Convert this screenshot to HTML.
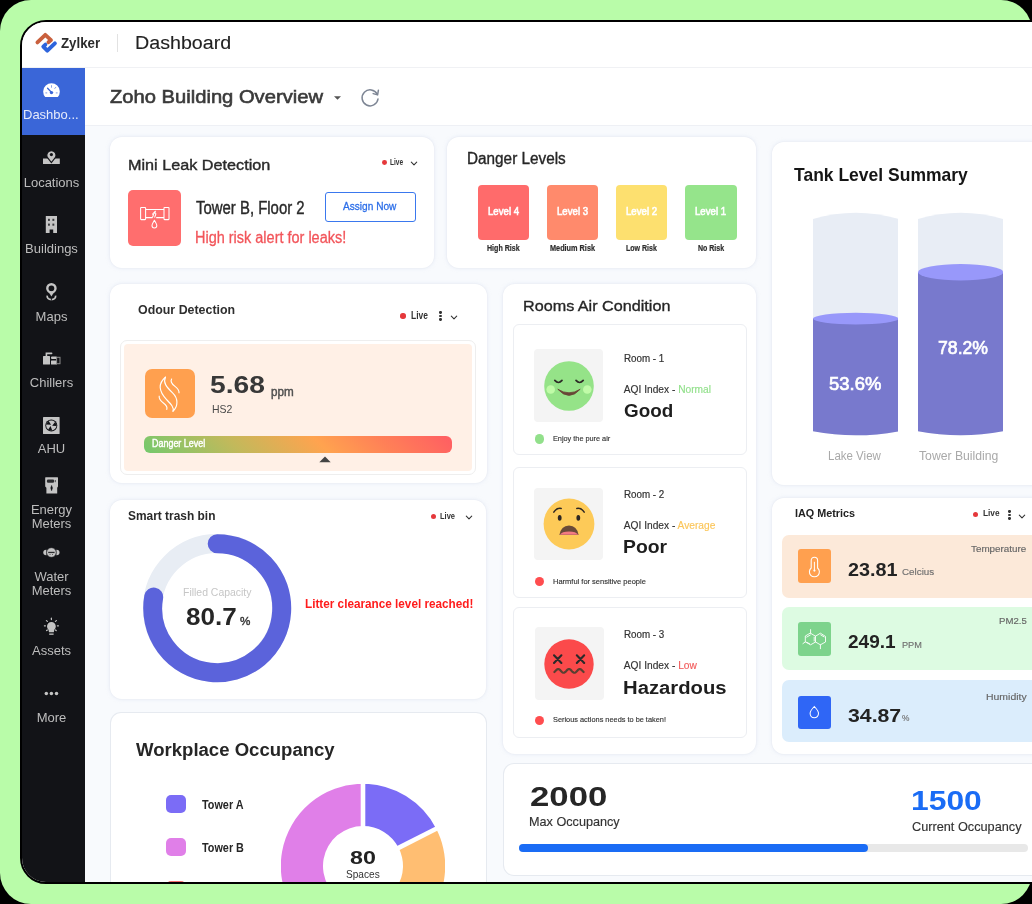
<!DOCTYPE html>
<html><head><meta charset="utf-8">
<style>
*{margin:0;padding:0;box-sizing:border-box;}
html,body{width:1032px;height:904px;overflow:hidden;background:#000;font-family:"Liberation Sans",sans-serif;}
.abs{position:absolute;}
#green{position:absolute;left:0;top:0;width:1032px;height:904px;background:#b9fca9;border-radius:31px;}
#panel{position:absolute;left:20px;top:20px;width:1100px;height:864px;background:#fff;border:2px solid #000;border-radius:26px;overflow:hidden;}
#pg{position:absolute;left:-22px;top:-22px;width:1200px;height:904px;will-change:transform;}
#hdr{position:absolute;left:22px;top:22px;width:1100px;height:46px;background:#fff;border-bottom:1px solid #f0f1f4;}
#side{position:absolute;left:22px;top:68px;width:63px;height:820px;background:#121317;}
#main{position:absolute;left:85px;top:68px;width:1100px;height:820px;background:#f8fafd;}
#tband{position:absolute;left:85px;top:68px;width:1100px;height:58px;background:#fff;border-bottom:1px solid #eef0f5;}
.sl{left:22px;width:59px;text-align:center;font-size:13px;line-height:13px;color:#bdbdbd;white-space:nowrap;}
.t{position:absolute;white-space:nowrap;transform-origin:0 0;}
.card{position:absolute;background:#fff;border-radius:16px;box-shadow:0 0 0 0.6px #eceff5, 0 0 4px rgba(190,200,225,0.35);}
</style></head>
<body>
<div id="green"></div>
<div id="panel"><div id="pg">
<div id="hdr"></div>
<div id="side"></div>
<div id="main"></div>
<div id="tband"></div>

<!-- header -->
<svg class="abs" style="left:33px;top:30px" width="26" height="26" viewBox="0 0 26 26">
<polyline points="4.4,12.4 12.3,4.8 18,10.1 15.4,12.2" fill="none" stroke="#c9603d" stroke-width="3.8" stroke-linecap="round" stroke-linejoin="round"/>
<polyline points="12.4,14.6 10.3,16.6 14.3,20.7 21.9,13.4" fill="none" stroke="#2e64dc" stroke-width="3.9" stroke-linecap="round" stroke-linejoin="round"/>
</svg>
<div class="abs" style="left:117px;top:34px;width:1px;height:18px;background:#e2e2e2"></div>
<!-- title band -->
<svg class="abs" style="left:333px;top:95px" width="9" height="6" viewBox="0 0 9 6"><path d="M1 1.2 L8 1.2 L4.5 4.8 Z" fill="#555"/></svg>
<svg class="abs" style="left:359px;top:87px" width="22" height="22" viewBox="0 0 22 22"><path d="M18.2 7.2 A8 8 0 1 0 19 12" fill="none" stroke="#7d8594" stroke-width="1.5" stroke-linecap="round"/><path d="M19.4 3.2 L18.6 7.9 L14.2 6.6" fill="none" stroke="#7d8594" stroke-width="1.5" stroke-linecap="round" stroke-linejoin="round"/></svg>

<!-- sidebar -->
<div class="abs" style="left:22px;top:68px;width:63px;height:67px;background:#3a66d8"></div>
<svg class="abs" style="left:42px;top:83px" width="19" height="16" viewBox="0 0 19 16">
<path d="M3.2 14 A8.3 8.3 0 1 1 15.8 14 Z" fill="#fff"/>
<line x1="5.6" y1="5.2" x2="9.5" y2="9.4" stroke="#3a66d8" stroke-width="1.3" stroke-linecap="round"/>
<circle cx="9.5" cy="9.6" r="1.7" fill="#3a66d8"/>
<line x1="9.5" y1="2.6" x2="9.5" y2="4.3" stroke="#8aa3e8" stroke-width="1" stroke-linecap="round"/>
<line x1="13.8" y1="4.3" x2="12.8" y2="5.5" stroke="#8aa3e8" stroke-width="1" stroke-linecap="round"/>
<line x1="3.4" y1="9.9" x2="5.2" y2="9.9" stroke="#8aa3e8" stroke-width="1.1"/>
<line x1="13.8" y1="9.9" x2="15.6" y2="9.9" stroke="#8aa3e8" stroke-width="1.1"/>
</svg>
<div class="abs sl" style="left:23px;top:108px;width:56px;text-align:left;color:#e6ebfb">Dashbo...</div>
<svg class="abs" style="left:42px;top:149px" width="19" height="17" viewBox="0 0 19 17">
<rect x="1" y="9.5" width="16.8" height="5.5" fill="#c4c4c4"/>
<path d="M9.4 13.6 L5.2 8.2 A4.6 4.6 0 1 1 13.6 8.2 Z" fill="#c4c4c4" stroke="#121317" stroke-width="1.1"/>
<circle cx="9.4" cy="5.6" r="1.6" fill="#121317"/>
</svg>
<div class="abs sl" style="top:175.5px">Locations</div>
<svg class="abs" style="left:45px;top:215px" width="13" height="19" viewBox="0 0 13 19">
<path d="M0.8 1 H12 V18 H8.2 V14.5 H4.6 V18 H0.8 Z" fill="#c4c4c4"/>
<rect x="3" y="3.8" width="1.9" height="2.1" fill="#3a3b3e"/><rect x="7.4" y="3.8" width="1.9" height="2.1" fill="#3a3b3e"/>
<rect x="3" y="8.6" width="1.9" height="2.1" fill="#3a3b3e"/><rect x="7.4" y="8.6" width="1.9" height="2.1" fill="#3a3b3e"/>
</svg>
<div class="abs sl" style="top:242px">Buildings</div>
<svg class="abs" style="left:44px;top:281px" width="15" height="21" viewBox="0 0 15 21">
<circle cx="7.4" cy="7.3" r="4.1" fill="none" stroke="#c4c4c4" stroke-width="2.4"/>
<path d="M4.4 10.6 L7.4 15.6 L10.4 10.6 Z" fill="#c4c4c4"/>
<path d="M3.2 14.6 Q2.8 18.2 7.4 18.6 Q12 18.2 11.6 14.6" fill="none" stroke="#c4c4c4" stroke-width="1.7"/>
<path d="M7.4 16.2 V19.6 M5.6 15.4 L6.6 17 M9.2 15.4 L8.2 17" stroke="#121317" stroke-width="0.9"/>
</svg>
<div class="abs sl" style="top:309.5px">Maps</div>
<svg class="abs" style="left:42px;top:350px" width="19" height="17" viewBox="0 0 19 17">
<rect x="1" y="6" width="7" height="8.6" rx="0.5" fill="#c4c4c4"/>
<path d="M4.4 6 V3.4 H9.6" fill="none" stroke="#c4c4c4" stroke-width="1.6" stroke-linecap="round"/>
<rect x="9" y="6.4" width="6" height="2.6" rx="1" fill="#c4c4c4"/>
<rect x="9" y="10.4" width="6" height="4.2" rx="0.5" fill="#c4c4c4"/>
<rect x="14.6" y="7.3" width="3.4" height="6.4" fill="none" stroke="#8c8c8c" stroke-width="1"/>
</svg>
<div class="abs sl" style="top:375.6px">Chillers</div>
<svg class="abs" style="left:42px;top:416px" width="19" height="19" viewBox="0 0 19 19">
<rect x="1" y="1" width="16.6" height="17" rx="0.6" fill="#c4c4c4"/>
<circle cx="9.3" cy="9.5" r="6" fill="#121317"/>
<circle cx="9.3" cy="9.5" r="5.1" fill="#c4c4c4"/>
<path d="M10.14 9.82 L13.25 5.82 L14.68 9.97 Z M8.58 10.04 L10.33 14.80 L6.05 13.81 Z M9.07 8.63 L4.00 8.47 L6.52 4.87 Z" fill="#121317"/>
</svg>
<div class="abs sl" style="top:442.4px">AHU</div>
<svg class="abs" style="left:44px;top:476px" width="15" height="19" viewBox="0 0 15 19">
<path d="M1.6 1.2 H13.6 Q14 1.2 14 2 V10.5 L13.2 11.8 V17.6 H2.4 V11.8 L1.2 10.5 V2 Q1.2 1.2 1.6 1.2 Z" fill="#c4c4c4"/>
<rect x="2.9" y="3.6" width="7.2" height="3.1" rx="1.2" fill="#2a2b2e"/>
<rect x="10.8" y="4" width="1" height="2.2" fill="#4a4b4e"/>
<path d="M7.6 9.2 L8.6 12 L7.6 15 L6.6 12 Z" fill="#121317" stroke="#121317" stroke-width="0.3"/>
</svg>
<div class="abs sl" style="top:502.8px;line-height:13.8px">Energy<br>Meters</div>
<svg class="abs" style="left:42px;top:546px" width="19" height="13" viewBox="0 0 19 13">
<path d="M4.5 3.8 Q1.3 3.6 1.3 6.5 Q1.3 9.4 4.5 9.2 Z" fill="#c4c4c4"/>
<path d="M14.3 3.8 Q17.5 3.6 17.5 6.5 Q17.5 9.4 14.3 9.2 Z" fill="#c4c4c4"/>
<circle cx="9.4" cy="6.5" r="4.8" fill="#c4c4c4" stroke="#121317" stroke-width="0.6"/>
<rect x="6.2" y="5.8" width="6.4" height="1.3" fill="#2a2b2e"/>
<rect x="7.6" y="8" width="0.9" height="1" fill="#5a5a5a"/><rect x="10.1" y="8" width="0.9" height="1" fill="#5a5a5a"/>
</svg>
<div class="abs sl" style="top:569.7px;line-height:14.3px">Water<br>Meters</div>
<svg class="abs" style="left:43px;top:617px" width="17" height="20" viewBox="0 0 17 20">
<path d="M8.4 5 A4.4 4.4 0 0 1 12.8 9.4 Q12.8 11.4 11.3 12.8 L10.8 15.2 H6 L5.5 12.8 Q4 11.4 4 9.4 A4.4 4.4 0 0 1 8.4 5 Z" fill="#c4c4c4"/>
<rect x="6.2" y="16.5" width="4.4" height="1.3" fill="#c4c4c4"/>
<g stroke="#c4c4c4" stroke-width="1.2" stroke-linecap="round">
<line x1="8.4" y1="1.2" x2="8.4" y2="2.6"/><line x1="3.4" y1="3.6" x2="4.4" y2="4.4"/><line x1="13.4" y1="3.6" x2="12.4" y2="4.4"/>
<line x1="1.4" y1="8.8" x2="2.4" y2="8.8"/><line x1="15.4" y1="8.8" x2="14.4" y2="8.8"/>
<line x1="3.6" y1="13.6" x2="4.4" y2="13"/><line x1="13.2" y1="13.6" x2="12.4" y2="13"/>
</g>
</svg>
<div class="abs sl" style="top:643.9px">Assets</div>
<svg class="abs" style="left:42px;top:689px" width="19" height="9" viewBox="0 0 19 9">
<circle cx="4.3" cy="4.5" r="1.75" fill="#c4c4c4"/><circle cx="9.4" cy="4.5" r="1.75" fill="#c4c4c4"/><circle cx="14.5" cy="4.5" r="1.75" fill="#c4c4c4"/>
</svg>
<div class="abs sl" style="top:710.7px">More</div>

<div class="t" style="left:60.50px;top:35.55px;transform:scaleX(0.9498);font-size:14px;line-height:14px;font-weight:700;color:#2b2b2b;">Zylker</div>
<div class="t" style="left:135.08px;top:34.50px;transform:scaleX(1.1176);font-size:17.6px;line-height:17.6px;font-weight:400;color:#222;-webkit-text-stroke:0.1px #222;">Dashboard</div>
<div class="t" style="left:110.20px;top:88.06px;transform:scaleX(1.0846);font-size:18.6px;line-height:18.6px;font-weight:400;color:#3a3a3a;-webkit-text-stroke:0.6px #3a3a3a;">Zoho Building Overview</div>
<div class="card" style="left:110px;top:137px;width:324px;height:131px;border-radius:12px;"></div>
<div class="t" style="left:127.95px;top:157.26px;transform:scaleX(1.0524);font-size:15.4px;line-height:15.4px;font-weight:400;color:#2a2a2a;-webkit-text-stroke:0.4px #2a2a2a;">Mini Leak Detection</div>
<div class="abs" style="left:381.90000000000003px;top:160.2px;width:4.8px;height:4.8px;border-radius:50%;background:#e5383b"></div>
<div class="t" style="left:389.70px;top:158.40px;transform:scaleX(0.7696);font-size:8.5px;line-height:8.5px;font-weight:700;color:#333;">Live</div>
<svg class="abs" style="left:409.8px;top:160.8px" width="8" height="5" viewBox="0 0 8 5"><path d="M1.3 1.2 L4 3.8 L6.7 1.2" fill="none" stroke="#333" stroke-width="1.1" stroke-linecap="round" stroke-linejoin="round"/></svg>
<div class="abs" style="left:128px;top:189.5px;width:53px;height:56.5px;border-radius:5px;background:#ff6e6e"></div>
<svg class="abs" style="left:134px;top:196px" width="42" height="42" viewBox="0 0 42 42">
<g fill="none" stroke="#fff" stroke-width="1.05" stroke-linejoin="round">
<rect x="6.6" y="11.4" width="5" height="12.2" rx="0.6"/>
<rect x="30" y="11.4" width="5" height="12.2" rx="0.6"/>
<path d="M11.6 13.5 H30 M11.6 21.6 H18.4 M22.2 21.6 H30"/>
<path d="M18.4 21.6 L19.6 18.4 L18.6 18.2 L21.4 15.2 L20.8 17.6 L21.9 17.8 L20.6 21.6"/>
<path d="M20.4 24.2 Q17.8 28.6 18 29.6 A2.4 2.4 0 0 0 22.8 29.6 Q23 28.6 20.4 24.2 Z"/>
</g></svg>
<div class="t" style="left:195.70px;top:199.79px;transform:scaleX(0.8526);font-size:17.5px;line-height:17.5px;font-weight:400;color:#2a2a2a;-webkit-text-stroke:0.4px #2a2a2a;">Tower B, Floor 2</div>
<div class="t" style="left:194.80px;top:229.56px;transform:scaleX(0.9046);font-size:16px;line-height:16px;font-weight:400;color:#f2555a;-webkit-text-stroke:0.3px #f2555a;">High risk alert for leaks!</div>
<div class="abs" style="left:325px;top:191.5px;width:91px;height:30px;border:1.3px solid #3a78ee;border-radius:3px;background:#fff"></div>
<div class="t" style="left:342.90px;top:200.67px;transform:scaleX(0.8793);font-size:11.5px;line-height:11.5px;font-weight:400;color:#2c6ee8;-webkit-text-stroke:0.3px #2c6ee8;">Assign Now</div>
<div class="card" style="left:447px;top:137px;width:309px;height:131px;border-radius:12px;"></div>
<div class="t" style="left:467.12px;top:151.09px;transform:scaleX(0.9824);font-size:15.6px;line-height:15.6px;font-weight:400;color:#262626;-webkit-text-stroke:0.35px #262626;">Danger Levels</div>
<div class="abs" style="left:477.5px;top:184.5px;width:51.5px;height:55.2px;border-radius:4px;background:#ff6b6b"></div>
<div class="t" style="left:487.75px;top:206.29px;transform:scaleX(0.8769);font-size:11px;line-height:11px;font-weight:400;color:#fff;-webkit-text-stroke:0.6px #fff;">Level 4</div>
<div class="t" style="left:486.75px;top:244.19px;transform:scaleX(0.8469);font-size:8.4px;line-height:8.4px;font-weight:700;color:#2e2e2e;-webkit-text-stroke:0.2px #2e2e2e;">High Risk</div>
<div class="abs" style="left:546.7px;top:184.5px;width:51.5px;height:55.2px;border-radius:4px;background:#ff8a6c"></div>
<div class="t" style="left:556.95px;top:206.29px;transform:scaleX(0.8769);font-size:11px;line-height:11px;font-weight:400;color:#fff;-webkit-text-stroke:0.6px #fff;">Level 3</div>
<div class="t" style="left:549.80px;top:244.19px;transform:scaleX(0.8712);font-size:8.4px;line-height:8.4px;font-weight:700;color:#2e2e2e;-webkit-text-stroke:0.2px #2e2e2e;">Medium Risk</div>
<div class="abs" style="left:615.7px;top:184.5px;width:51.5px;height:55.2px;border-radius:4px;background:#fde06f"></div>
<div class="t" style="left:625.95px;top:206.29px;transform:scaleX(0.8769);font-size:11px;line-height:11px;font-weight:400;color:#fff;-webkit-text-stroke:0.6px #fff;">Level 2</div>
<div class="t" style="left:625.85px;top:244.19px;transform:scaleX(0.8408);font-size:8.4px;line-height:8.4px;font-weight:700;color:#2e2e2e;-webkit-text-stroke:0.2px #2e2e2e;">Low Risk</div>
<div class="abs" style="left:685px;top:184.5px;width:51.5px;height:55.2px;border-radius:4px;background:#95e48b"></div>
<div class="t" style="left:695.25px;top:206.29px;transform:scaleX(0.8769);font-size:11px;line-height:11px;font-weight:400;color:#fff;-webkit-text-stroke:0.6px #fff;">Level 1</div>
<div class="t" style="left:697.55px;top:244.19px;transform:scaleX(0.8375);font-size:8.4px;line-height:8.4px;font-weight:700;color:#2e2e2e;-webkit-text-stroke:0.2px #2e2e2e;">No Risk</div>
<div class="card" style="left:772px;top:142px;width:320px;height:343px;border-radius:12px;"></div>
<div class="t" style="left:794.00px;top:166.92px;transform:scaleX(0.9897);font-size:17.7px;line-height:17.7px;font-weight:700;color:#151515;">Tank Level Summary</div>
<svg class="abs" style="left:812.7px;top:205px" width="85.5" height="235" viewBox="0 0 85.5 235">
<path d="M0 14 Q42.75 1.5 85.5 14 V226.3 Q42.75 234.4 0 226.3 Z" fill="#e8edf5"/>
<path d="M0 113.60000000000002 V226.3 Q42.75 234.4 85.5 226.3 V113.60000000000002 Z" fill="#7879cd"/>
<ellipse cx="42.75" cy="113.60000000000002" rx="42.75" ry="5.8" fill="#9898fa"/>
</svg>
<svg class="abs" style="left:918px;top:205px" width="85.29999999999995" height="235" viewBox="0 0 85.29999999999995 235">
<path d="M0 14 Q42.64999999999998 1.5 85.29999999999995 14 V226.3 Q42.64999999999998 234.4 0 226.3 Z" fill="#e8edf5"/>
<path d="M0 67.19999999999999 V226.3 Q42.64999999999998 234.4 85.29999999999995 226.3 V67.19999999999999 Z" fill="#7879cd"/>
<ellipse cx="42.64999999999998" cy="67.19999999999999" rx="42.64999999999998" ry="8.2" fill="#9898fa"/>
</svg>
<div class="t" style="left:828.70px;top:373.75px;transform:scaleX(0.9624);font-size:19.2px;line-height:19.2px;font-weight:400;color:#fff;-webkit-text-stroke:0.7px #fff;">53.6%</div>
<div class="t" style="left:938.00px;top:337.95px;transform:scaleX(0.9201);font-size:19.2px;line-height:19.2px;font-weight:400;color:#fff;-webkit-text-stroke:0.7px #fff;">78.2%</div>
<div class="t" style="left:827.78px;top:449.92px;transform:scaleX(0.9196);font-size:12.5px;line-height:12.5px;font-weight:400;color:#a9a9a9;">Lake View</div>
<div class="t" style="left:918.50px;top:449.92px;transform:scaleX(0.9761);font-size:12.5px;line-height:12.5px;font-weight:400;color:#a9a9a9;">Tower Building</div>
<div class="card" style="left:110px;top:284px;width:377px;height:199px;border-radius:12px;"></div>
<div class="t" style="left:137.90px;top:304.46px;transform:scaleX(0.9689);font-size:12.8px;line-height:12.8px;font-weight:700;color:#2e2e2e;">Odour Detection</div>
<div class="abs" style="left:400.3px;top:313.3px;width:5.4px;height:5.4px;border-radius:50%;background:#e5383b"></div>
<div class="t" style="left:410.50px;top:310.94px;transform:scaleX(0.8460);font-size:10px;line-height:10px;font-weight:700;color:#333;">Live</div>
<div class="abs" style="left:439.25px;top:311.25px;width:2.3px;height:2.3px;border-radius:50%;background:#333"></div>
<div class="abs" style="left:439.25px;top:314.85px;width:2.3px;height:2.3px;border-radius:50%;background:#333"></div>
<div class="abs" style="left:439.25px;top:318.45000000000005px;width:2.3px;height:2.3px;border-radius:50%;background:#333"></div>
<svg class="abs" style="left:450px;top:314.5px" width="8" height="5" viewBox="0 0 8 5"><path d="M1.3 1.2 L4 3.8 L6.7 1.2" fill="none" stroke="#333" stroke-width="1.1" stroke-linecap="round" stroke-linejoin="round"/></svg>
<div class="abs" style="left:119.8px;top:340.4px;width:356.5px;height:135px;border:1.2px solid #eeeeee;border-radius:7px;background:#fff"></div>
<div class="abs" style="left:124.3px;top:344.3px;width:347.7px;height:126.5px;border-radius:4px;background:#fff0e6"></div>
<div class="abs" style="left:145px;top:369px;width:50px;height:49px;border-radius:7px;background:#ffa04f"></div>
<svg class="abs" style="left:145px;top:369px" width="50" height="49" viewBox="0 0 50 49">
<g fill="none" stroke="#fff" stroke-width="1.15" stroke-linecap="round">
<path d="M20.4 8.2 C13 14.5 13.5 22 21.6 30.6 C26 35.2 29.4 38.6 28 42.2"/>
<path d="M20.4 8.2 C18 13.4 21 17.6 27.6 23.8 C33.4 29.4 33.2 37.4 28 42.2"/>
<path d="M26.6 10 C25 12.6 26.4 14.6 30 17.4 C33 19.8 34.2 21.6 34 23.8"/>
<path d="M14.2 27.2 C13.8 30 15.2 31.6 18.4 34 C21.4 36.2 22.6 38 21.8 40.4"/>
</g></svg>
<div class="t" style="left:210.00px;top:372.51px;transform:scaleX(1.1388);font-size:24.8px;line-height:24.8px;font-weight:700;color:#383838;">5.68</div>
<div class="t" style="left:270.60px;top:386.02px;transform:scaleX(0.9329);font-size:12.5px;line-height:12.5px;font-weight:400;color:#505050;-webkit-text-stroke:0.45px #505050;">ppm</div>
<div class="t" style="left:212.30px;top:404.17px;transform:scaleX(0.9101);font-size:11.5px;line-height:11.5px;font-weight:400;color:#4a4a4a;">HS2</div>
<div class="abs" style="left:144px;top:436.3px;width:308px;height:17px;border-radius:6px;background:linear-gradient(45deg,#74c96d 0%,#c2b95b 30%,#ffa34f 57%,#ff8057 77%,#ff5d63 100%)"></div>
<div class="t" style="left:152.20px;top:438.54px;transform:scaleX(0.8944);font-size:10px;line-height:10px;font-weight:400;color:#fff;-webkit-text-stroke:0.4px #fff;">Danger Level</div>
<svg class="abs" style="left:318.5px;top:456px" width="12" height="7" viewBox="0 0 12 7"><path d="M0.3 6.2 L6 0.4 L11.7 6.2 Z" fill="#444"/></svg>
<div class="card" style="left:502.5px;top:284px;width:253px;height:470px;border-radius:12px;"></div>
<div class="t" style="left:523.36px;top:298.48px;transform:scaleX(1.0433);font-size:15.5px;line-height:15.5px;font-weight:400;color:#262626;-webkit-text-stroke:0.35px #262626;">Rooms Air Condition</div>
<div class="abs" style="left:513px;top:324px;width:233.5px;height:130.7px;border:1px solid #eceef2;border-radius:6px;background:#fff"></div>
<div class="abs" style="left:534.2px;top:349px;width:68.6px;height:72.80000000000001px;border-radius:4px;background:#f4f4f4"></div>
<svg class="abs" style="left:538.8px;top:356.2px" width="60" height="60" viewBox="-30 -30 60 60">
<circle cx="0" cy="0" r="24.8" fill="#95e388"/>
<circle cx="-18.3" cy="3.5" r="4.3" fill="#c0fba8"/><circle cx="18.3" cy="3.5" r="4.3" fill="#c0fba8"/>
<path d="M-14.2 -5.6 Q-10.6 -1.4 -7 -5.6 M7 -5.6 Q10.6 -1.4 14.2 -5.6" fill="none" stroke="#2d2a26" stroke-width="1.7" stroke-linecap="round"/>
<path d="M-11.2 3.2 Q0 15.6 11.2 3.2 Q0 10.4 -11.2 3.2 Z" fill="#684636" stroke="#684636" stroke-width="0.8" stroke-linejoin="round"/>
</svg>
<div class="t" style="left:623.80px;top:353.54px;transform:scaleX(0.9793);font-size:10px;line-height:10px;font-weight:400;color:#333;-webkit-text-stroke:0.2px #333;">Room - 1</div>
<div class="t" style="left:623.80px;top:385.17px;font-size:10.2px;line-height:10.2px;font-weight:400;color:#333;-webkit-text-stroke:0.15px #333;">AQI Index - <span style="color:#92e08b;-webkit-text-stroke:0.15px #92e08b">Normal</span></div>
<div class="t" style="left:623.80px;top:401.15px;transform:scaleX(0.9825);font-size:19.2px;line-height:19.2px;font-weight:700;color:#1e1e1e;">Good</div>
<div class="abs" style="left:535.0px;top:434.2px;width:9.4px;height:9.4px;border-radius:50%;background:#92e08b"></div>
<div class="t" style="left:552.50px;top:434.94px;transform:scaleX(0.9021);font-size:8.1px;line-height:8.1px;font-weight:400;color:#333;-webkit-text-stroke:0.15px #333;">Enjoy the pure air</div>
<div class="abs" style="left:513px;top:466.8px;width:233.5px;height:131.3px;border:1px solid #eceef2;border-radius:6px;background:#fff"></div>
<div class="abs" style="left:534px;top:487.9px;width:68.6px;height:72.60000000000002px;border-radius:4px;background:#f4f4f4"></div>
<svg class="abs" style="left:538.7px;top:494.20000000000005px" width="60" height="60" viewBox="-30 -30 60 60">
<circle cx="0" cy="0" r="25.4" fill="#fdca58"/>
<path d="M-15.2 -11.8 Q-12.4 -16.4 -7.8 -15.6 M7.8 -15.6 Q12.4 -16.4 15.2 -11.8" fill="none" stroke="#2d2622" stroke-width="1.5" stroke-linecap="round"/>
<ellipse cx="-9.3" cy="-6.2" rx="1.9" ry="2.9" fill="#2d2622"/><ellipse cx="9.3" cy="-6.2" rx="1.9" ry="2.9" fill="#2d2622"/>
<path d="M-9.6 11 Q-8 1.8 0 1.6 Q8 1.8 9.6 11 Z" fill="#6a4a38"/>
<path d="M-9.4 10.8 Q-7 7.4 0 7.4 Q7 7.4 9.4 10.8 Z" fill="#f37a82"/>
</svg>
<div class="t" style="left:623.80px;top:489.84px;transform:scaleX(0.9793);font-size:10px;line-height:10px;font-weight:400;color:#333;-webkit-text-stroke:0.2px #333;">Room - 2</div>
<div class="t" style="left:623.80px;top:521.27px;font-size:10.2px;line-height:10.2px;font-weight:400;color:#333;-webkit-text-stroke:0.15px #333;">AQI Index - <span style="color:#fbc65a;-webkit-text-stroke:0.15px #fbc65a">Average</span></div>
<div class="t" style="left:622.79px;top:537.05px;transform:scaleX(1.0084);font-size:19.2px;line-height:19.2px;font-weight:700;color:#1e1e1e;">Poor</div>
<div class="abs" style="left:535.0px;top:576.9px;width:9.4px;height:9.4px;border-radius:50%;background:#ff4d4f"></div>
<div class="t" style="left:552.50px;top:577.64px;transform:scaleX(0.9254);font-size:8.1px;line-height:8.1px;font-weight:400;color:#333;-webkit-text-stroke:0.15px #333;">Harmful for sensitive people</div>
<div class="abs" style="left:513px;top:607.3px;width:233.5px;height:130.80000000000007px;border:1px solid #eceef2;border-radius:6px;background:#fff"></div>
<div class="abs" style="left:535.3px;top:627.1px;width:68.6px;height:73.39999999999998px;border-radius:4px;background:#f4f4f4"></div>
<svg class="abs" style="left:539.2px;top:633.5px" width="60" height="60" viewBox="-30 -30 60 60">
<circle cx="0" cy="0" r="24.7" fill="#fb4a4b"/>
<path d="M-15 -8.7 L-7.6 -1.1 M-7.6 -8.7 L-15 -1.1 M7.8 -8.7 L15.2 -1.1 M15.2 -8.7 L7.8 -1.1" stroke="#2b2a2a" stroke-width="2.1" stroke-linecap="round" transform="scale(1)"/>
<path d="M-14.60 8.03 L-13.87 7.31 L-13.14 6.50 L-12.41 5.77 L-11.68 5.24 L-10.95 5.01 L-10.22 5.11 L-9.49 5.53 L-8.76 6.19 L-8.03 6.98 L-7.30 7.75 L-6.57 8.38 L-5.84 8.74 L-5.11 8.77 L-4.38 8.48 L-3.65 7.90 L-2.92 7.14 L-2.19 6.34 L-1.46 5.65 L-0.73 5.17 L0.00 5.00 L0.73 5.17 L1.46 5.65 L2.19 6.34 L2.92 7.14 L3.65 7.90 L4.38 8.48 L5.11 8.77 L5.84 8.74 L6.57 8.38 L7.30 7.75 L8.03 6.98 L8.76 6.19 L9.49 5.53 L10.22 5.11 L10.95 5.01 L11.68 5.24 L12.41 5.77 L13.14 6.50 L13.87 7.31 L14.60 8.03" fill="none" stroke="#5a3f31" stroke-width="2.2" stroke-linecap="round" stroke-linejoin="round"/>
</svg>
<div class="t" style="left:623.80px;top:630.33px;transform:scaleX(0.9793);font-size:10px;line-height:10px;font-weight:400;color:#333;-webkit-text-stroke:0.2px #333;">Room - 3</div>
<div class="t" style="left:623.80px;top:661.27px;font-size:10.2px;line-height:10.2px;font-weight:400;color:#333;-webkit-text-stroke:0.15px #333;">AQI Index - <span style="color:#f25c5c;-webkit-text-stroke:0.15px #f25c5c">Low</span></div>
<div class="t" style="left:622.74px;top:677.55px;transform:scaleX(1.0558);font-size:19.2px;line-height:19.2px;font-weight:700;color:#1e1e1e;">Hazardous</div>
<div class="abs" style="left:535.0px;top:715.6999999999999px;width:9.4px;height:9.4px;border-radius:50%;background:#ff4d4f"></div>
<div class="t" style="left:552.50px;top:716.44px;transform:scaleX(0.9093);font-size:8.1px;line-height:8.1px;font-weight:400;color:#333;-webkit-text-stroke:0.15px #333;">Serious actions needs to be taken!</div>
<div class="card" style="left:110px;top:500px;width:376px;height:199px;border-radius:12px;"></div>
<div class="t" style="left:127.70px;top:509.27px;transform:scaleX(0.8828);font-size:13.5px;line-height:13.5px;font-weight:700;color:#2a2a2a;">Smart trash bin</div>
<div class="abs" style="left:430.7px;top:514.0px;width:5.0px;height:5.0px;border-radius:50%;background:#e5383b"></div>
<div class="t" style="left:439.80px;top:512.18px;transform:scaleX(0.8332);font-size:9px;line-height:9px;font-weight:700;color:#333;">Live</div>
<svg class="abs" style="left:464.5px;top:514.5px" width="8" height="5" viewBox="0 0 8 5"><path d="M1.3 1.2 L4 3.8 L6.7 1.2" fill="none" stroke="#333" stroke-width="1.1" stroke-linecap="round" stroke-linejoin="round"/></svg>
<svg class="abs" style="left:137px;top:528px" width="160" height="160" viewBox="-80 -80 160 160">
<circle cx="0" cy="0" r="64.5" fill="none" stroke="#e8edf4" stroke-width="19"/>
<path d="M0 -64.5 A64.5 64.5 0 1 1 -63.5 -11.2" fill="none" stroke="#5b63db" stroke-width="19" stroke-linecap="round" transform="translate(0.2 0.2)"/>
</svg>
<div class="t" style="left:183.40px;top:587.93px;transform:scaleX(1.0445);font-size:10px;line-height:10px;font-weight:400;color:#c6c6c6;">Filled Capacity</div>
<div class="t" style="left:185.70px;top:604.86px;transform:scaleX(1.0625);font-size:24.5px;line-height:24.5px;font-weight:700;color:#262626;">80.7</div>
<div class="t" style="left:240.00px;top:616.29px;transform:scaleX(1.0600);font-size:11px;line-height:11px;font-weight:400;color:#333;-webkit-text-stroke:0.4px #333;">%</div>
<div class="t" style="left:305.20px;top:598.22px;transform:scaleX(0.9394);font-size:12.5px;line-height:12.5px;font-weight:700;color:#ff1c1c;">Litter clearance level reached!</div>
<div class="card" style="left:772px;top:498px;width:320px;height:256px;border-radius:12px;"></div>
<div class="t" style="left:794.70px;top:508.15px;transform:scaleX(0.9497);font-size:11.4px;line-height:11.4px;font-weight:700;color:#222;">IAQ Metrics</div>
<div class="abs" style="left:973.3px;top:512.2px;width:5.0px;height:5.0px;border-radius:50%;background:#e5383b"></div>
<div class="t" style="left:983.20px;top:508.78px;transform:scaleX(0.9220);font-size:9px;line-height:9px;font-weight:700;color:#333;">Live</div>
<div class="abs" style="left:1008.35px;top:510.25px;width:2.3px;height:2.3px;border-radius:50%;background:#333"></div>
<div class="abs" style="left:1008.35px;top:513.85px;width:2.3px;height:2.3px;border-radius:50%;background:#333"></div>
<div class="abs" style="left:1008.35px;top:517.45px;width:2.3px;height:2.3px;border-radius:50%;background:#333"></div>
<svg class="abs" style="left:1018.3px;top:513.5px" width="8" height="5" viewBox="0 0 8 5"><path d="M1.3 1.2 L4 3.8 L6.7 1.2" fill="none" stroke="#333" stroke-width="1.1" stroke-linecap="round" stroke-linejoin="round"/></svg>
<div class="abs" style="left:782.4px;top:535.4px;width:300px;height:62.30000000000007px;border-radius:7px;background:#fce9d9"></div>
<div class="abs" style="left:797.6px;top:549.1999999999999px;width:33.4px;height:33.4px;border-radius:3px;background:#ffa04f"></div>
<svg class="abs" style="left:797.1px;top:548.8px" width="34" height="34" viewBox="0 0 34 34">
<path d="M14.2 19 V11.5 A3.2 3.2 0 0 1 20.6 11.5 V19 A5 5 0 1 1 14.2 19 Z" fill="none" stroke="#fff" stroke-width="1.05"/>
<path d="M17.4 12.8 V21.4" stroke="#fff" stroke-width="1"/><circle cx="17.4" cy="21.6" r="1.1" fill="#fff"/>
</svg>
<div class="t" style="left:971.10px;top:543.50px;transform:scaleX(1.0063);font-size:9.8px;line-height:9.8px;font-weight:400;color:#666;-webkit-text-stroke:0.15px #666;">Temperature</div>
<div class="t" style="left:847.90px;top:561.11px;transform:scaleX(1.0816);font-size:18.3px;line-height:18.3px;font-weight:700;color:#232323;">23.81</div>
<div class="t" style="left:902.40px;top:566.89px;transform:scaleX(1.0150);font-size:9.7px;line-height:9.7px;font-weight:400;color:#707070;-webkit-text-stroke:0.15px #707070;">Celcius</div>
<div class="abs" style="left:782.4px;top:607.3px;width:300px;height:62.30000000000007px;border-radius:7px;background:#ddfbe2"></div>
<div class="abs" style="left:797.6px;top:622.4px;width:33.4px;height:33.4px;border-radius:3px;background:#7dd38c"></div>
<svg class="abs" style="left:797.1px;top:622px" width="34" height="34" viewBox="0 0 34 34">
<g fill="none" stroke="#fff" stroke-width="0.9" stroke-linejoin="round" stroke-linecap="round">
<path d="M13.6 11.3 L18.5 14.2 L18.5 20 L13.6 22.8 L8.3 19.9 L8.3 14.4 Z"/>
<path d="M18.5 14.2 L23.4 11.2 L28.5 14.4 L28.5 20 L23.4 22.8 L18.5 20"/>
<path d="M13.6 11.3 V7.6 M8.3 19.9 L5.9 21.6 M23.4 22.8 V26.7"/>
<path d="M9.7 15.1 L13.3 13 M17.2 15.2 V19 M10 20.4 L12.6 21.8 M23.7 12.9 L27.1 14.9"/>
</g></svg>
<div class="t" style="left:999.40px;top:617.31px;transform:scaleX(1.0437);font-size:9.2px;line-height:9.2px;font-weight:400;color:#666;-webkit-text-stroke:0.15px #666;">PM2.5</div>
<div class="t" style="left:847.90px;top:633.41px;transform:scaleX(1.0399);font-size:18.3px;line-height:18.3px;font-weight:700;color:#232323;">249.1</div>
<div class="t" style="left:902.40px;top:641.35px;transform:scaleX(1.0408);font-size:8.8px;line-height:8.8px;font-weight:400;color:#707070;-webkit-text-stroke:0.15px #707070;">PPM</div>
<div class="abs" style="left:782.4px;top:680.1px;width:300px;height:62.0px;border-radius:7px;background:#dbedfc"></div>
<div class="abs" style="left:797.6px;top:695.6px;width:33.4px;height:33.4px;border-radius:3px;background:#2f66f6"></div>
<svg class="abs" style="left:797.1px;top:695.2px" width="34" height="34" viewBox="0 0 34 34">
<path d="M17.3 11.5 Q12.9 16 13.1 18.6 A4.2 4.2 0 0 0 21.5 18.6 Q21.7 16 17.3 11.5 Z" fill="none" stroke="#fff" stroke-width="1.05"/>
</svg>
<div class="t" style="left:986.20px;top:691.50px;transform:scaleX(1.0678);font-size:9.8px;line-height:9.8px;font-weight:400;color:#666;-webkit-text-stroke:0.15px #666;">Humidity</div>
<div class="t" style="left:847.90px;top:706.61px;transform:scaleX(1.1628);font-size:18.3px;line-height:18.3px;font-weight:700;color:#232323;">34.87</div>
<div class="t" style="left:902.40px;top:714.48px;transform:scaleX(0.9250);font-size:9px;line-height:9px;font-weight:400;color:#707070;-webkit-text-stroke:0.15px #707070;">%</div>
<div class="card" style="left:110.5px;top:712.6px;width:375.5px;height:200px;border-radius:10px;box-shadow:0 0 0 1px #e6eaf0;"></div>
<div class="t" style="left:135.80px;top:740.15px;transform:scaleX(0.9670);font-size:19.2px;line-height:19.2px;font-weight:700;color:#262626;">Workplace Occupancy</div>
<div class="abs" style="left:166px;top:795px;width:20px;height:18px;border-radius:5px;background:#7b6cf6"></div>
<div class="t" style="left:201.70px;top:799.12px;transform:scaleX(0.8665);font-size:12.5px;line-height:12.5px;font-weight:700;color:#262626;">Tower A</div>
<div class="abs" style="left:166px;top:837.5px;width:20px;height:18px;border-radius:5px;background:#e07fe8"></div>
<div class="t" style="left:201.70px;top:842.02px;transform:scaleX(0.8665);font-size:12.5px;line-height:12.5px;font-weight:700;color:#262626;">Tower B</div>
<div class="abs" style="left:166px;top:881px;width:20px;height:18px;border-radius:5px;background:#f26b6b"></div>
<svg class="abs" style="left:280.7px;top:783.6px" width="164" height="164" viewBox="0 0 164 164">
<path d="M82.00 -0.20 A82.2 82.2 0 0 1 155.24 44.68 L117.64 63.84 A40 40 0 0 0 82.00 42.00 Z" fill="#7b6cf6"/>
<path d="M155.24 44.68 A82.2 82.2 0 0 1 82.00 164.20 L82.00 122.00 A40 40 0 0 0 117.64 63.84 Z" fill="#ffbe72"/>
<path d="M82.00 164.20 A82.2 82.2 0 0 1 53.89 159.24 L68.32 119.59 A40 40 0 0 0 82.00 122.00 Z" fill="#f26b6b"/>
<path d="M53.89 159.24 A82.2 82.2 0 0 1 82.00 -0.20 L82.00 42.00 A40 40 0 0 0 68.32 119.59 Z" fill="#e07fe8"/>
<g stroke="#fff" stroke-width="4.6">
<line x1="82" y1="82" x2="82" y2="-2"/>
<line x1="114.08" y1="65.66" x2="158.63" y2="42.96"/>
</g>
</svg>
<div class="t" style="left:349.70px;top:848.99px;transform:scaleX(1.2777);font-size:18.2px;line-height:18.2px;font-weight:700;color:#222;">80</div>
<div class="t" style="left:345.70px;top:869.67px;transform:scaleX(0.9916);font-size:10.2px;line-height:10.2px;font-weight:400;color:#333;">Spaces</div>
<div class="card" style="left:504px;top:764px;width:600px;height:110.5px;border-radius:10px;box-shadow:0 0 0 1px #e6eaf0;"></div>
<div class="t" style="left:530.10px;top:783.54px;transform:scaleX(1.2871);font-size:27px;line-height:27px;font-weight:700;color:#262626;">2000</div>
<div class="t" style="left:529.08px;top:816.40px;transform:scaleX(1.0210);font-size:12.4px;line-height:12.4px;font-weight:400;color:#333;-webkit-text-stroke:0.15px #333;">Max Occupancy</div>
<div class="t" style="left:911.22px;top:788.04px;transform:scaleX(1.1783);font-size:27px;line-height:27px;font-weight:700;color:#1a6cf5;">1500</div>
<div class="t" style="left:912.40px;top:820.87px;transform:scaleX(1.0435);font-size:12.2px;line-height:12.2px;font-weight:400;color:#333;-webkit-text-stroke:0.15px #333;">Current Occupancy</div>
<div class="abs" style="left:519.3px;top:843.8px;width:508.5px;height:8.3px;border-radius:4.2px;background:#e8e8e8"></div>
<div class="abs" style="left:519.3px;top:843.8px;width:348.6px;height:8.3px;border-radius:4.2px;background:#1a6cf5"></div>
</div></div>
</body></html>
